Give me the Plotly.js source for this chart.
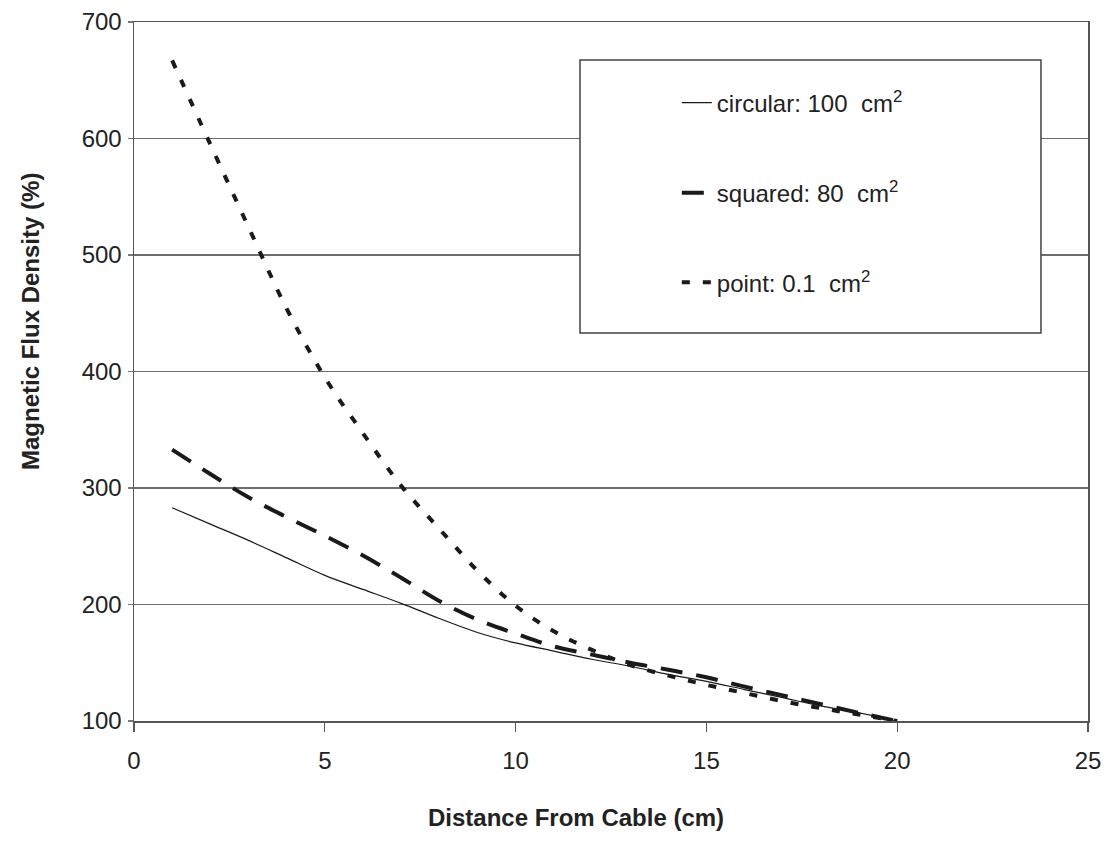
<!DOCTYPE html>
<html>
<head>
<meta charset="utf-8">
<script src="https://cdn.plot.ly/plotly-3.0.1.min.js"></script>
<style>html,body{margin:0;padding:0;background:#fff;}#chart{width:1107px;height:853px;}</style>
</head>
<body>
<div id="chart"></div>
<script>
const distance = [1,2,3,4,5,6,7,8,9,10,11,12,13,14,15,16,17,18,19,20];
const circular = [283,269,255,240,225,213,201,188,176,167,160,153,147,140,134,127,120,113,107,100];
const squared  = [333,312,292,275,259,242,223,203,187,175,164,157,150,144,137.5,129.5,122,114.5,107,100];
const point    = [667,595,524,454,395,347,302,265,229,199,177,161,148,139,131,124,117,111,105.5,100];
const seriesNames = ['circular: 100  cm<sup>2</sup>', 'squared: 80  cm<sup>2</sup>', 'point: 0.1  cm<sup>2</sup>'];
const xTicks = [0,5,10,15,20,25];
const yTicks = [100,200,300,400,500,600,700];
const xTitle = '<b>Distance From Cable (cm)</b>';
const yTitle = '<b>Magnetic Flux Density (%)</b>';

const ink = '#1a1a1a';
const fam = 'Liberation Sans, Arial, sans-serif';
const traces = [
  {x: distance, y: circular, name: seriesNames[0], mode: 'lines', line: {color: ink, width: 1.2, shape: 'spline'}, legend: 'legend'},
  {x: distance, y: squared, name: seriesNames[1], mode: 'lines', line: {color: ink, width: 4, dash: '22px,14px', shape: 'spline'}, legend: 'legend2'},
  {x: distance, y: point, name: seriesNames[2], mode: 'lines', line: {color: ink, width: 4, dash: '8px,13px', shape: 'spline'}, legend: 'legend3'}
];

const legFont = {family: fam, size: 24, color: '#222'};
const legBase = {xanchor: 'left', yanchor: 'middle', x: 0.569, bgcolor: 'rgba(0,0,0,0)', borderwidth: 0, font: legFont};

const layout = {
  width: 1107, height: 853,
  margin: {l: 134, r: 19, t: 22, b: 132},
  paper_bgcolor: '#fff', plot_bgcolor: '#fff',
  font: {family: fam, size: 24, color: '#222'},
  showlegend: true,
  legend: Object.assign({}, legBase, {y: 0.884}),
  legend2: Object.assign({}, legBase, {y: 0.755}),
  legend3: Object.assign({}, legBase, {y: 0.627}),
  xaxis: {
    range: [0, 25], tickvals: xTicks, ticktext: xTicks.map(String),
    showgrid: false, zeroline: false,
    showline: true, linecolor: '#555', linewidth: 1.5, mirror: true,
    ticks: 'outside', ticklen: 9, tickcolor: '#555', tickwidth: 1.3,
    ticklabelstandoff: 9,
    tickfont: {family: fam, size: 24, color: '#222'}
  },
  yaxis: {
    range: [100, 700], tickvals: yTicks, ticktext: yTicks.map(String),
    showgrid: true, gridcolor: '#6e6e6e', gridwidth: 1.3, zeroline: false,
    showline: true, linecolor: '#555', linewidth: 1.5, mirror: true,
    ticks: 'outside', ticklen: 5, tickcolor: '#777', tickwidth: 1.3,
    ticklabelstandoff: 1,
    tickfont: {family: fam, size: 24, color: '#222'}
  },
  annotations: [
    {text: xTitle, xref: 'paper', yref: 'paper', x: (576 - 134) / 954, y: (721 - 817) / 699,
     xanchor: 'center', yanchor: 'middle', showarrow: false, font: {family: fam, size: 24, color: '#222'}},
    {text: yTitle, xref: 'paper', yref: 'paper', x: (30 - 134) / 954, y: (721 - 322) / 699,
     xanchor: 'center', yanchor: 'middle', textangle: -90, showarrow: false, font: {family: fam, size: 24, color: '#222'}}
  ],
  shapes: [
    {type: 'rect', xref: 'paper', yref: 'paper', x0: 0.4675, x1: 0.9507, y0: 0.555, y1: 0.9456,
     line: {color: '#444', width: 1.5}, fillcolor: '#fff', layer: 'above'}
  ]
};

Plotly.newPlot('chart', traces, layout, {displayModeBar: false, staticPlot: true});
</script>
</body>
</html>
